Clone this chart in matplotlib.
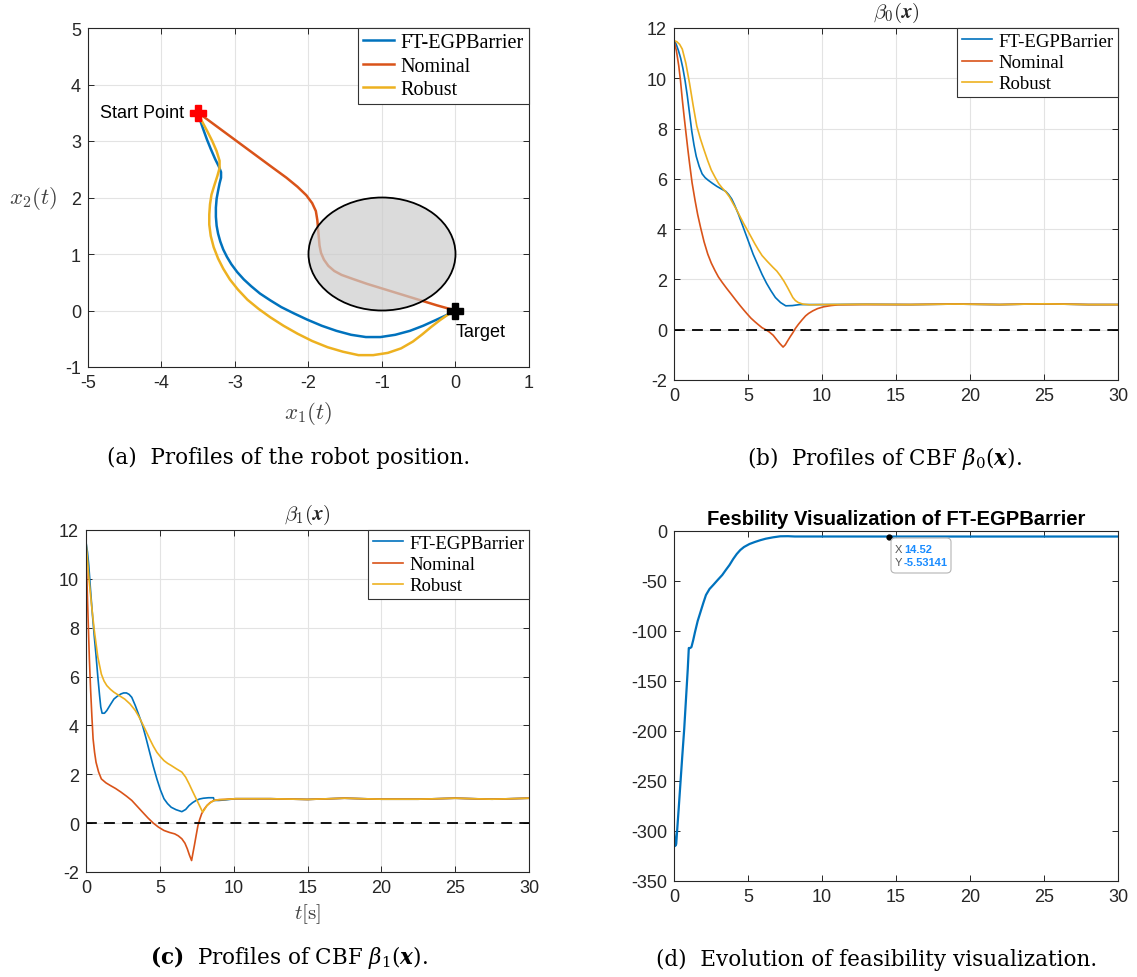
import matplotlib
matplotlib.use("Agg")
import matplotlib.pyplot as plt
from matplotlib.patches import Ellipse, FancyBboxPatch

# ---- data -----------------------------------------------------------------
# (a) robot trajectories in the plane
ft_x1 = [-3.50, -3.47, -3.43, -3.38, -3.33, -3.27, -3.22, -3.19, -3.19, -3.21, -3.23, -3.25,
         -3.26, -3.26, -3.25, -3.23, -3.20, -3.16, -3.11, -3.05, -2.97, -2.88, -2.78, -2.66,
         -2.52, -2.37, -2.20, -2.02, -1.82, -1.62, -1.42, -1.22, -1.02, -0.82, -0.62, -0.44,
         -0.27, -0.12, 0.0]
ft_x2 = [3.50, 3.35, 3.20, 3.02, 2.86, 2.68, 2.55, 2.45, 2.35, 2.25, 2.12, 1.98,
         1.82, 1.66, 1.50, 1.36, 1.22, 1.08, 0.95, 0.82, 0.68, 0.55, 0.43, 0.30,
         0.18, 0.06, -0.05, -0.16, -0.27, -0.36, -0.43, -0.47, -0.47, -0.43, -0.36, -0.27,
         -0.17, -0.08, 0.0]
nom_x1 = [-3.50, -3.25, -3.00, -2.75, -2.50, -2.30, -2.15, -2.03, -1.95, -1.90, -1.88, -1.87,
          -1.86, -1.85, -1.83, -1.79, -1.73, -1.65, -1.55, -1.40, -1.20, -1.00, -0.75, -0.50,
          -0.25, 0.0]
nom_x2 = [3.50, 3.26, 3.02, 2.78, 2.54, 2.35, 2.19, 2.04, 1.90, 1.76, 1.60, 1.45,
          1.30, 1.15, 1.02, 0.90, 0.79, 0.70, 0.63, 0.56, 0.47, 0.39, 0.29, 0.19,
          0.09, 0.0]
rob_x1 = [-3.50, -3.45, -3.38, -3.31, -3.25, -3.21, -3.21, -3.24, -3.28, -3.32, -3.34, -3.35,
          -3.35, -3.33, -3.29, -3.23, -3.16, -3.07, -2.96, -2.83, -2.68, -2.52, -2.34, -2.15,
          -1.95, -1.74, -1.53, -1.32, -1.12, -0.92, -0.74, -0.58, -0.45, -0.33, -0.21, -0.10,
          0.0]
rob_x2 = [3.50, 3.35, 3.18, 3.00, 2.82, 2.65, 2.52, 2.38, 2.22, 2.05, 1.88, 1.70,
          1.52, 1.32, 1.12, 0.92, 0.74, 0.55, 0.37, 0.19, 0.03, -0.12, -0.27, -0.41,
          -0.54, -0.65, -0.73, -0.79, -0.79, -0.75, -0.67, -0.55, -0.42, -0.29, -0.17, -0.07,
          0.0]
start_pt = (-3.5, 3.5)
target_pt = (0.0, 0.0)
obstacle_center = (-1.0, 1.0)
obstacle_radius = 1.0

# (b) CBF beta_0
b0_ft_t = [0, 0.15, 0.3, 0.45, 0.6, 0.75, 0.9, 1.05, 1.2, 1.35, 1.5, 1.7, 1.9, 2.1, 2.3,
           2.6, 2.9, 3.2, 3.5, 3.7, 3.9, 4.1, 4.35, 4.6, 4.85, 5.1, 5.35, 5.65, 5.95, 6.25,
           6.55, 6.85, 7.2, 7.55, 8.0, 8.5, 9.0, 10, 13, 16, 19, 22, 25, 28, 30]
b0_ft = [11.5, 11.35, 11.1, 10.8, 10.4, 9.9, 9.3, 8.6, 7.9, 7.35, 6.9, 6.5, 6.2, 6.05, 5.95,
         5.82, 5.7, 5.6, 5.5, 5.37, 5.2, 4.95, 4.6, 4.2, 3.8, 3.4, 3.0, 2.6, 2.2, 1.85,
         1.55, 1.28, 1.08, 0.95, 0.96, 1.0, 1.0, 1.0, 1.01, 1.0, 1.02, 1.0, 1.03, 1.0, 1.0]
b0_nom_t = [0, 0.16, 0.32, 0.44, 0.56, 0.68, 0.81, 0.93, 1.05, 1.22, 1.42, 1.6, 1.79, 2.03,
            2.28, 2.52, 2.77, 3.0, 3.26, 3.55, 3.87, 4.17, 4.48, 4.72, 4.97, 5.2, 5.46, 5.7,
            5.95, 6.2, 6.44, 6.7, 6.93, 7.15, 7.37, 7.52, 7.67, 7.85, 8.03, 8.2, 8.40, 8.65,
            8.89, 9.1, 9.38, 9.7, 10.1, 10.6, 11.1, 12.6, 16, 19, 22, 25, 28, 30]
b0_nom = [11.5, 11.1, 10.5, 9.9, 9.16, 8.5, 7.82, 7.2, 6.62, 5.85, 5.15, 4.58, 4.08, 3.5,
          3.01, 2.65, 2.35, 2.1, 1.88, 1.65, 1.41, 1.18, 0.95, 0.78, 0.61, 0.46, 0.32, 0.2,
          0.08, 0.0, -0.09, -0.22, -0.39, -0.55, -0.69, -0.6, -0.45, -0.28, -0.12, 0.05, 0.21,
          0.39, 0.55, 0.65, 0.75, 0.84, 0.91, 0.96, 0.99, 1.0, 1.0, 1.02, 1.0, 1.03, 1.0, 1.0]
b0_rob_t = [0, 0.2, 0.38, 0.56, 0.8, 1.05, 1.3, 1.54, 1.78, 2.03, 2.28, 2.52, 2.77, 3.01,
            3.25, 3.50, 3.75, 3.99, 4.24, 4.48, 4.72, 4.97, 5.22, 5.46, 5.7, 5.95, 6.3, 6.69,
            6.95, 7.18, 7.43, 7.67, 7.85, 8.03, 8.2, 8.40, 8.7, 9.14, 10, 13, 16, 19, 22, 25,
            28, 30]
b0_rob = [11.5, 11.45, 11.35, 11.16, 10.6, 9.8, 8.9, 8.1, 7.6, 7.15, 6.72, 6.35, 6.07, 5.82,
          5.64, 5.48, 5.28, 5.02, 4.76, 4.48, 4.21, 3.95, 3.68, 3.42, 3.18, 2.95, 2.72, 2.48,
          2.33, 2.15, 1.93, 1.68, 1.48, 1.28, 1.16, 1.08, 1.02, 0.99, 1.0, 1.01, 1.0, 1.02,
          1.0, 1.03, 1.0, 1.0]

# (c) CBF beta_1
b1_ft_t = [0, 0.1, 0.19, 0.3, 0.44, 0.56, 0.68, 0.8, 0.92, 1.0, 1.09, 1.25, 1.41, 1.65, 1.89,
           2.13, 2.37, 2.55, 2.74, 2.92, 3.10, 3.34, 3.58, 3.83, 4.07, 4.31, 4.55, 4.80, 5.04,
           5.28, 5.52, 5.77, 6.1, 6.49, 6.75, 6.98, 7.22, 7.46, 7.7, 7.95, 8.3, 8.63, 8.68,
           9.0, 9.40, 10.13, 12.5, 15, 17.5, 20, 22.5, 25, 27.5, 30]
b1_ft = [11.5, 11.1, 10.54, 9.6, 8.5, 7.65, 6.86, 6.0, 5.22, 4.75, 4.5, 4.5, 4.61, 4.85, 5.08,
         5.2, 5.29, 5.33, 5.33, 5.27, 5.15, 4.81, 4.42, 4.0, 3.47, 2.9, 2.34, 1.81, 1.36,
         1.0, 0.8, 0.65, 0.55, 0.47, 0.56, 0.72, 0.84, 0.93, 0.99, 1.02, 1.04, 1.04, 0.93,
         0.93, 0.95, 1.0, 1.0, 0.97, 1.02, 0.98, 0.98, 1.02, 0.98, 1.02]
b1_nom_t = [0, 0.07, 0.15, 0.23, 0.31, 0.4, 0.48, 0.58, 0.68, 0.85, 1.04, 1.35, 1.65, 2.0,
            2.37, 2.75, 3.10, 3.45, 3.83, 4.2, 4.56, 4.9, 5.28, 5.65, 6.01, 6.25, 6.49, 6.7,
            6.86, 7.0, 7.15, 7.25, 7.34, 7.46, 7.58, 7.7, 7.83, 8.0, 8.19, 8.4, 8.67, 9.0,
            9.40, 10.13, 12.5, 15, 17.5, 20, 22.5, 25, 27.5, 30]
b1_nom = [11.5, 9.8, 8.22, 6.7, 5.49, 4.35, 3.45, 2.9, 2.49, 2.1, 1.81, 1.65, 1.54, 1.42,
          1.27, 1.1, 0.93, 0.7, 0.45, 0.21, 0.0, -0.16, -0.3, -0.38, -0.44, -0.52, -0.64,
          -0.82, -1.05, -1.3, -1.53, -1.2, -0.91, -0.5, -0.1, 0.15, 0.38, 0.57, 0.72, 0.84,
          0.93, 0.96, 0.97, 1.0, 1.0, 0.97, 1.02, 0.98, 0.98, 1.02, 0.98, 1.02]
b1_rob_t = [0, 0.1, 0.2, 0.38, 0.56, 0.8, 1.04, 1.22, 1.41, 1.65, 1.89, 2.25, 2.62, 2.98,
            3.34, 3.58, 3.83, 4.07, 4.31, 4.55, 4.80, 5.04, 5.28, 5.52, 5.77, 6.13, 6.49,
            6.75, 6.98, 7.22, 7.46, 7.7, 7.90, 8.05, 8.19, 8.43, 8.67, 9.0, 9.40, 10.13,
            12.5, 15, 17.5, 20, 22.5, 25, 27.5, 30]
b1_rob = [11.5, 10.8, 10.0, 8.9, 7.9, 6.8, 6.1, 5.82, 5.63, 5.48, 5.36, 5.22, 5.08, 4.88,
          4.61, 4.36, 4.06, 3.76, 3.45, 3.16, 2.9, 2.72, 2.56, 2.45, 2.36, 2.22, 2.09, 1.88,
          1.61, 1.3, 1.0, 0.7, 0.45, 0.58, 0.72, 0.84, 0.93, 0.96, 0.97, 1.0,
          1.0, 0.97, 1.02, 0.98, 0.98, 1.02, 0.98, 1.02]

# (d) feasibility
feas_t = [0, 0.08, 0.15, 0.2, 0.32, 0.44, 0.56, 0.69, 0.81, 0.93, 1.0, 1.1, 1.18, 1.3, 1.42,
          1.6, 1.79, 1.98, 2.16, 2.4, 2.65, 2.95, 3.26, 3.5, 3.75, 4.0, 4.24, 4.48, 4.73,
          5.1, 5.46, 5.83, 6.2, 6.7, 7.18, 7.7, 8.16, 10, 14.52, 20, 25, 30]
feas = [-300, -315, -313, -302, -277, -251, -225, -198, -168, -138, -117, -117, -116, -109,
        -101, -90, -81, -72, -64, -58, -54, -49, -44, -39, -34, -28, -23, -19, -16,
        -13, -11, -9.2, -7.7, -6.3, -5.3, -5.2, -5.5, -5.5, -5.53141, -5.53, -5.53, -5.53]
tip_x, tip_y = 14.52, -5.53141

labels = ["FT-EGPBarrier", "Nominal", "Robust"]
colors = ["#0072BD", "#D95319", "#EDB120"]

# ---- style ----------------------------------------------------------------
plt.rcParams["font.family"] = ["Liberation Sans", "DejaVu Sans"]
plt.rcParams["mathtext.fontset"] = "cm"
plt.rcParams["axes.unicode_minus"] = False
plt.rcParams["axes.edgecolor"] = "#262626"
plt.rcParams["xtick.color"] = "#262626"
plt.rcParams["ytick.color"] = "#262626"
tick_fs = 13
dark = "#262626"

fig = plt.figure(figsize=(11.37, 9.78), dpi=100)
W, H = 1137, 978


def px_axes(l, t, r, b):
    return fig.add_axes([l / W, 1 - b / H, (r - l) / W, (b - t) / H])


def matlab_style(ax, grid=True):
    ax.tick_params(direction="in", length=4, width=0.7, labelsize=tick_fs,
                   top=True, right=True, pad=5)
    for s in ax.spines.values():
        s.set_linewidth(0.8)
    if grid:
        ax.grid(True, color="#e3e3e3", linewidth=0.8)
        ax.set_axisbelow(True)


def add_legend(ax, fs, hl):
    leg = ax.legend(loc="upper right", borderaxespad=0, fancybox=False, framealpha=1,
                    edgecolor="#333333", prop={"family": "Liberation Serif", "size": fs},
                    handlelength=hl, handletextpad=0.35, labelspacing=0.22, borderpad=0.25)
    leg.get_frame().set_linewidth(0.8)
    return leg


# ---- (a) ------------------------------------------------------------------
ax = px_axes(88, 29, 529, 368)
ax.plot(ft_x1, ft_x2, color=colors[0], lw=1.8, label=labels[0])
ax.plot(nom_x1, nom_x2, color=colors[1], lw=1.8, label=labels[1])
ax.plot(rob_x1, rob_x2, color=colors[2], lw=1.8, label=labels[2])
ax.add_patch(Ellipse(obstacle_center, 2 * obstacle_radius, 2 * obstacle_radius,
                     facecolor=(0.8, 0.8, 0.8, 0.7), edgecolor="black", lw=1.3, zorder=3))
ax.plot(*start_pt, marker="P", color="red", ms=11, mec="red", zorder=5)
ax.plot(*target_pt, marker="P", color="black", ms=11, zorder=5)
ax.text(start_pt[0] - 0.19, start_pt[1], "Start Point", ha="right", va="center", fontsize=13)
ax.text(target_pt[0], target_pt[1] - 0.22, "Target", ha="left", va="top", fontsize=13)
ax.set_xlim(-5, 1)
ax.set_ylim(-1, 5)
ax.set_xticks(range(-5, 2))
ax.set_yticks(range(-1, 6))
matlab_style(ax)
ax.set_xlabel(r"$x_1(t)$", fontsize=16.5, color="#404040", labelpad=6)
ax.set_ylabel(r"$x_2(t)$", fontsize=16.5, color="#404040", rotation=0, labelpad=23,
              va="center")
add_legend(ax, 14.5, 1.5)

# ---- (b) ------------------------------------------------------------------
ax = px_axes(674, 29, 1118, 381)
ax.plot(b0_ft_t, b0_ft, color=colors[0], lw=1.2, label=labels[0])
ax.plot(b0_nom_t, b0_nom, color=colors[1], lw=1.2, label=labels[1])
ax.plot(b0_rob_t, b0_rob, color=colors[2], lw=1.2, label=labels[2])
ax.axhline(0, color="black", ls=(0, (6, 4)), lw=1.3)
ax.set_xlim(0, 30)
ax.set_ylim(-2, 12)
ax.set_xticks(range(0, 31, 5))
ax.set_yticks(range(-2, 13, 2))
matlab_style(ax)
ax.set_title(r"$\beta_0(\boldsymbol{x})$", fontsize=15, color=dark, pad=8)
add_legend(ax, 13.5, 1.6)

# ---- (c) ------------------------------------------------------------------
ax = px_axes(86, 531, 529, 873)
ax.plot(b1_ft_t, b1_ft, color=colors[0], lw=1.2, label=labels[0])
ax.plot(b1_nom_t, b1_nom, color=colors[1], lw=1.2, label=labels[1])
ax.plot(b1_rob_t, b1_rob, color=colors[2], lw=1.2, label=labels[2])
ax.axhline(0, color="black", ls=(0, (6, 4)), lw=1.3)
ax.set_xlim(0, 30)
ax.set_ylim(-2, 12)
ax.set_xticks(range(0, 31, 5))
ax.set_yticks(range(-2, 13, 2))
matlab_style(ax)
ax.set_title(r"$\beta_1(\boldsymbol{x})$", fontsize=15, color=dark, pad=8)
ax.set_xlabel(r"$t[\mathrm{s}]$", fontsize=15, color="#404040", labelpad=4)
add_legend(ax, 13.5, 1.6)

# ---- (d) ------------------------------------------------------------------
ax = px_axes(674, 532, 1118, 882)
ax.plot(feas_t, feas, color=colors[0], lw=1.6)
ax.plot(tip_x, tip_y, "o", color="black", ms=3.5, zorder=5)
ax.set_xlim(0, 30)
ax.set_ylim(-350, 0)
ax.set_xticks(range(0, 31, 5))
ax.set_yticks(range(-350, 1, 50))
matlab_style(ax, grid=False)
ax.set_title("Fesbility Visualization of FT-EGPBarrier", fontsize=14.5, fontweight="bold",
             color="black", pad=5)

# data tip box
fig.patches.append(FancyBboxPatch((891 / W, 1 - 574 / H), 60 / W, 35 / H,
                                  boxstyle="round,pad=0,rounding_size=0.004",
                                  transform=fig.transFigure, facecolor="white",
                                  edgecolor="#b5b5b5", lw=0.8, zorder=10))
tip_fs = 8
fig.text(895 / W, 1 - 550 / H, "X", fontsize=tip_fs, color="#555555", va="center", zorder=11)
fig.text(904 / W, 1 - 550 / H, f"{tip_x:.2f}", fontsize=tip_fs, color="#1a8cff",
         fontweight="bold", va="center", zorder=11)
fig.text(895 / W, 1 - 563 / H, "Y", fontsize=tip_fs, color="#555555", va="center", zorder=11)
fig.text(904 / W, 1 - 563 / H, f"{tip_y:.5f}", fontsize=tip_fs, color="#1a8cff",
         fontweight="bold", va="center", zorder=11)

# ---- captions -------------------------------------------------------------
cap = dict(fontsize=15.5, family="DejaVu Serif", ha="center", va="center",
           math_fontfamily="dejavuserif")
fig.text(289 / W, 1 - 458 / H, "(a)  Profiles of the robot position.", **cap)
fig.text(884 / W, 1 - 459 / H, r"(b)  Profiles of CBF $\beta_0(\boldsymbol{x})$.", **cap)
fig.text(289 / W, 1 - 958 / H, r"$\mathbf{(c)}$  Profiles of CBF $\beta_1(\boldsymbol{x})$.", **cap)
fig.text(877 / W, 1 - 960 / H, "(d)  Evolution of feasibility visualization.", **cap)

fig.savefig("out.png", dpi=100)
